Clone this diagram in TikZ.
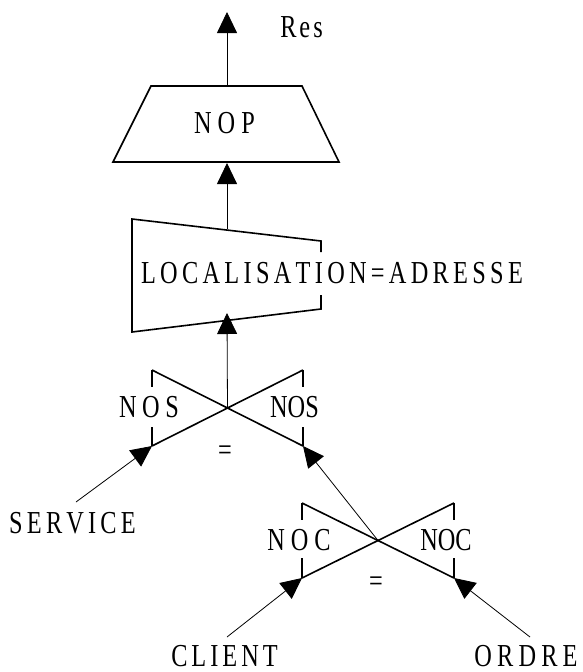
\documentclass[tikz,border=0pt]{standalone}
\usepackage{fontspec}
\setmainfont{Liberation Serif}[FakeStretch=0.76]
\usetikzlibrary{arrows.meta}
\makeatletter
\newcommand\spacedword[2]{\def\sw@k{\kern#1}\let\sw@sep\relax\@tfor\sw@c:=#2\do{\sw@sep\sw@c\let\sw@sep\sw@k}}
\makeatother
\tikzset{
  lbl/.style={inner sep=0pt, anchor=center, font=\fontsize{32}{38}\selectfont},
  shapeline/.style={line width=1.6pt, line join=miter},
  conn/.style={line width=0.8pt, -{Triangle[length=21pt,width=20pt]}},
}
\begin{document}
\begin{tikzpicture}[x=1pt,y=-1pt]
\useasboundingbox (0,0) rectangle (582,672);
% coordinates
\coordinate (restip) at (227,12);
\coordinate (noptop) at (227,86);
\coordinate (nopbot) at (227,163);
\coordinate (loctop) at (227,229);
\coordinate (locbot) at (227,313);
\coordinate (c1) at (227.5,408);
\coordinate (c1bl) at (152,446);
\coordinate (c1br) at (303,446);
\coordinate (c2) at (378,540.5);
\coordinate (c2bl) at (302,578);
\coordinate (c2br) at (454,578);
\coordinate (svcend) at (76,502);
\coordinate (cliend) at (227,637);
\coordinate (ordend) at (530,637);
% NOP trapezoid
\draw[shapeline] (151,86) -- (302,86) -- (339,162) -- (113,162) -- cycle;
% LOCALISATION box
\draw[shapeline] (321,252) -- (321,241) -- (132,219) -- (132,332) -- (321,309) -- (321,295);
% cross 1
\draw[shapeline] (152,370) -- (303,446);
\draw[shapeline] (303,370) -- (152,446);
\draw[shapeline] (152,370) -- (152,387) (152,427) -- (152,446);
\draw[shapeline] (303,370) -- (303,387) (303,427) -- (303,446);
% cross 2
\draw[shapeline] (302,503) -- (454,578);
\draw[shapeline] (454,503) -- (302,578);
\draw[shapeline] (302,503) -- (302,520) (302,558) -- (302,578);
\draw[shapeline] (454,503) -- (454,520) (454,558) -- (454,578);
% labels
\node[lbl] (res) at (301.5,27.5) {\spacedword{3pt}{Res}};
\node[lbl] (nop) at (224.5,123) {\spacedword{6pt}{NOP}};
\node[lbl] (loc) at (332,273.5) {\spacedword{4.3pt}{LOCALISATION=ADRESSE}};
\node[lbl] (nosl) at (149,407) {\spacedword{5.5pt}{NOS}};
\node[lbl] (nosr) at (294.5,407) {NOS};
\node[lbl] (eq1) at (225,453) {=};
\node[lbl] (svc) at (72.5,523) {\spacedword{4.2pt}{SERVICE}};
\node[lbl] (nocl) at (299,540.5) {\spacedword{6pt}{NOC}};
\node[lbl] (nocr) at (446,540.5) {NOC};
\node[lbl] (eq2) at (376,584) {=};
\node[lbl] (cli) at (224.5,656) {\spacedword{4pt}{CLIENT}};
\node[lbl] (ord) at (526,656) {\spacedword{5.2pt}{ORDRE}};
% connectors
\draw[conn] (noptop) -- (restip);
\draw[conn] (loctop) -- (nopbot);
\draw[conn] (c1) -- (locbot);
\draw[conn] (svcend) -- (c1bl);
\draw[conn] (c2) -- (c1br);
\draw[conn] (cliend) -- (c2bl);
\draw[conn] (ordend) -- (c2br);
\end{tikzpicture}
\end{document}
